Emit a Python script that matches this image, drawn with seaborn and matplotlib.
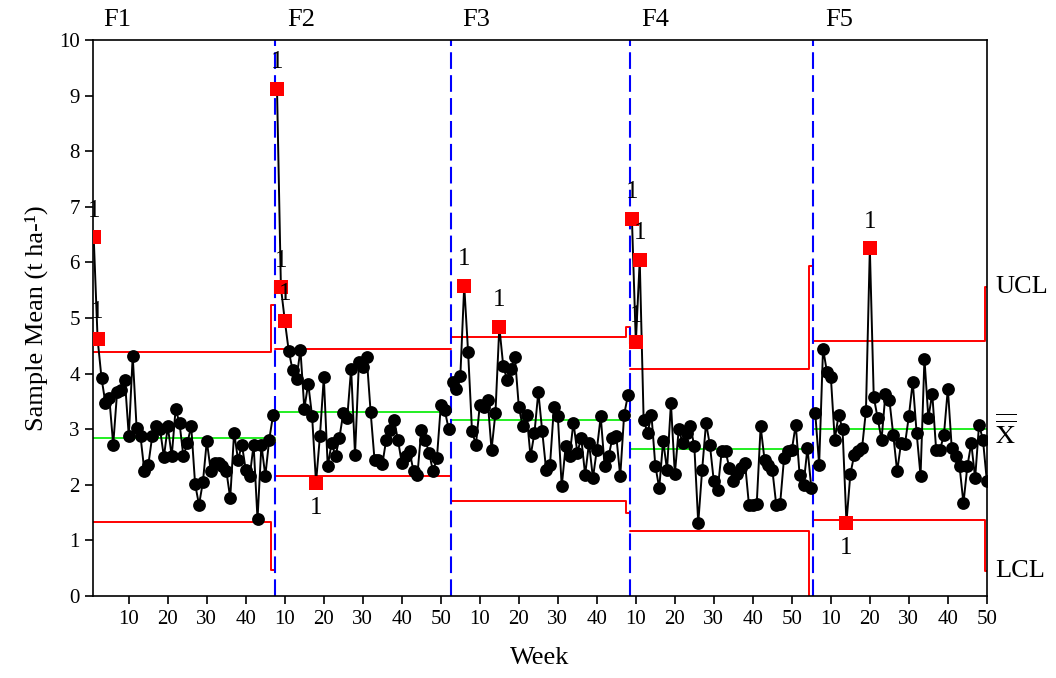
import numpy as np
import pandas as pd
import matplotlib
matplotlib.use("Agg")
import matplotlib.pyplot as plt
import matplotlib.transforms as mtransforms
import seaborn as sns

# ---- data -------------------------------------------------------------
phases = ["F1", "F2", "F3", "F4", "F5"]

f1_means = [6.45, 4.62, 3.92, 3.47, 3.56, 2.72, 3.67, 3.70, 3.88, 2.87,
            4.32, 3.02, 2.87, 2.24, 2.36, 2.87, 3.05, 3.00, 2.50, 3.05,
            2.51, 3.36, 3.11, 2.51, 2.75, 3.05, 2.01, 1.64, 2.05, 2.79,
            2.25, 2.39, 2.40, 2.33, 2.25, 1.76, 2.94, 2.45, 2.72, 2.26,
            2.15, 2.72, 1.38, 2.72, 2.16, 2.81, 3.26]
f2_means = [9.12, 5.55, 4.95, 4.41, 4.06, 3.91, 4.43, 3.37, 3.82, 3.23,
            2.04, 2.87, 3.94, 2.33, 2.75, 2.51, 2.85, 3.29, 3.20, 4.09,
            2.54, 4.20, 4.12, 4.29, 3.31, 2.45, 2.45, 2.37, 2.81, 2.99,
            3.17, 2.81, 2.39, 2.51, 2.60, 2.24, 2.18, 2.99, 2.81, 2.57,
            2.24, 2.48, 3.43, 3.34, 3.01]
f3_means = [3.85, 3.72, 3.95, 5.58, 4.38, 2.96, 2.72, 3.44, 3.40, 3.53,
            2.63, 3.29, 4.84, 4.14, 3.88, 4.09, 4.30, 3.40, 3.05, 3.26,
            2.51, 2.93, 3.67, 2.96, 2.27, 2.36, 3.40, 3.23, 1.97, 2.69,
            2.51, 3.12, 2.58, 2.84, 2.18, 2.75, 2.12, 2.63, 3.23, 2.33,
            2.51, 2.84, 2.87, 2.15, 3.26, 3.62]
f4_means = [6.78, 4.56, 6.04, 3.17, 2.93, 3.26, 2.34, 1.94, 2.79, 2.27,
            3.47, 2.19, 3.00, 2.75, 2.93, 3.05, 2.69, 1.31, 2.27, 3.11,
            2.71, 2.06, 1.91, 2.60, 2.60, 2.30, 2.06, 2.20, 2.30, 2.39,
            1.64, 1.64, 1.66, 3.05, 2.45, 2.36, 2.27, 1.64, 1.66, 2.48,
            2.60, 2.63, 3.08, 2.17, 2.00, 2.66, 1.94]
f5_means = [3.29, 2.36, 4.45, 4.03, 3.94, 2.81, 3.26, 3.00, 1.32, 2.19,
            2.54, 2.60, 2.66, 3.33, 6.25, 3.58, 3.20, 2.81, 3.64, 3.53,
            2.90, 2.24, 2.75, 2.73, 3.23, 3.85, 2.93, 2.16, 4.27, 3.20,
            3.64, 2.63, 2.63, 2.90, 3.73, 2.66, 2.51, 2.33, 1.67, 2.33,
            2.75, 2.12, 3.08, 2.81, 2.07]

# control limits per stage (last sample of a stage has a smaller subgroup)
center_line = [2.85, 3.31, 3.17, 2.65, 3.00]
upper_limit = [4.38, 4.45, 4.66, 4.09, 4.59]
lower_limit = [1.33, 2.15, 1.70, 1.17, 1.37]
upper_limit_last = [5.23, 4.45, 4.84, 5.93, 5.56]
lower_limit_last = [0.47, 2.15, 1.50, -0.63, 0.44]

week_labels = ["10", "20", "30", "40",
               "10", "20", "30", "40", "50",
               "10", "20", "30", "40",
               "10", "20", "30", "40", "50",
               "10", "20", "30", "40", "50"]

# ---- assemble ---------------------------------------------------------
stage_values = [f1_means, f2_means, f3_means, f4_means, f5_means]
rows = []
start = 1
bounds = []
for k, (name, vals) in enumerate(zip(phases, stage_values)):
    n = len(vals)
    for j, v in enumerate(vals):
        idx = start + j
        last = j == n - 1
        u = upper_limit_last[k] if last else upper_limit[k]
        l = lower_limit_last[k] if last else lower_limit[k]
        rows.append(dict(idx=idx, value=v, phase=name,
                         above=v > u, below=v < l))
    bounds.append((start, start + n - 1))
    start += n
df = pd.DataFrame(rows)
df["flag"] = df["above"] | df["below"]
n_total = len(df)

# ---- style ------------------------------------------------------------
sns.set_style("ticks")
plt.rcParams["font.family"] = ["Liberation Serif", "DejaVu Serif"]
plt.rcParams["mathtext.fontset"] = "stix"
plt.rcParams["text.color"] = "black"
plt.rcParams["axes.labelcolor"] = "black"
plt.rcParams["xtick.color"] = "black"
plt.rcParams["ytick.color"] = "black"

fig = plt.figure(figsize=(10.56, 6.78), dpi=100)
ax = fig.add_axes([0.088, 0.121, 0.8467, 0.820])

red = "#ff0000"
green = "#22ee22"
blue = "#0000ff"

# control limits drawn as steps per stage
for k, (s, e) in enumerate(bounds):
    xs = [s - 0.5, e - 0.5, e - 0.5, e + 0.5]
    ax.plot(xs, [upper_limit[k], upper_limit[k], upper_limit_last[k], upper_limit_last[k]],
            color=red, lw=1.4, zorder=1)
    ax.plot(xs, [lower_limit[k], lower_limit[k], lower_limit_last[k], lower_limit_last[k]],
            color=red, lw=1.4, zorder=1)
    ax.plot([s - 0.5, e + 0.5], [center_line[k]] * 2, color=green, lw=1.4, zorder=1)

# stage separators
for s, e in bounds[1:]:
    ax.axvline(s - 0.5, color=blue, lw=1.5, dashes=(8, 3), zorder=2)

# sample means
sns.lineplot(data=df, x="idx", y="value", units="phase", estimator=None,
             color="black", lw=1.4, ax=ax, legend=False, zorder=3)
sns.scatterplot(data=df[~df["flag"]], x="idx", y="value", color="black",
                s=85, linewidth=0, ax=ax, zorder=4, legend=False)
sns.scatterplot(data=df[df["flag"]], x="idx", y="value", color=red,
                marker="s", s=100, linewidth=0, ax=ax, zorder=5, legend=False)

# test-1 failure markers
for _, r in df[df["above"]].iterrows():
    ax.text(r["idx"], r["value"] + 0.48, "1", ha="center", va="center",
            fontsize=18, zorder=6, clip_on=False)
for _, r in df[df["below"]].iterrows():
    ax.text(r["idx"], r["value"] - 0.46, "1", ha="center", va="center",
            fontsize=18, zorder=6, clip_on=False)

# stage names above the plot
for name, (s, e) in zip(phases, bounds):
    ax.text(s + 2.5, 1.036, name, transform=mtransforms.blended_transform_factory(
        ax.transData, ax.transAxes), ha="left", va="center", fontsize=19)

# limit labels on the right
rt = mtransforms.blended_transform_factory(ax.transAxes, ax.transData)
ax.text(1.009, upper_limit_last[-1], "UCL", transform=rt, ha="left", va="center", fontsize=19)
ax.text(1.009, center_line[-1] - 0.05, r"$\overline{\overline{\mathrm{X}}}$", transform=rt,
        ha="left", va="center", fontsize=19)
ax.text(1.009, lower_limit_last[-1], "LCL", transform=rt, ha="left", va="center", fontsize=19)

# axes
ax.set_xlim(0.8, n_total + 0.05)
ax.set_ylim(0, 10)
ax.set_yticks(range(0, 11))
ax.set_xticks(np.arange(10, n_total + 1, 10))
ax.set_xticklabels(week_labels)
ax.tick_params(axis="both", direction="out", length=6, width=1.2,
               labelsize=15, color="black", labelcolor="black")
ax.tick_params(axis="x", pad=4)
for sp in ax.spines.values():
    sp.set_visible(True)
    sp.set_linewidth(1.2)
    sp.set_color("black")
ax.set_xlabel("Week", fontsize=19, labelpad=13)
ax.set_ylabel("Sample Mean (t ha-\u00b9)", fontsize=19, labelpad=8)

fig.savefig("out.png", dpi=100)
